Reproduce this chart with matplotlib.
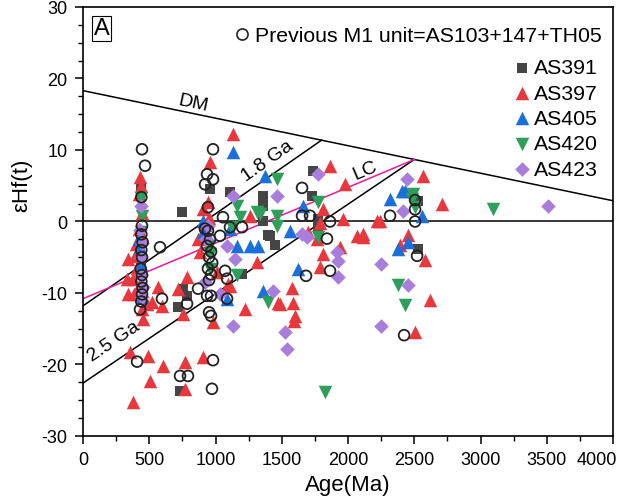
import matplotlib.pyplot as plt
import numpy as np
from matplotlib.ticker import MultipleLocator
from matplotlib.lines import Line2D
from matplotlib.transforms import ScaledTranslation

plt.rcParams['font.family'] = ['Liberation Sans', 'DejaVu Sans']
plt.rcParams['axes.unicode_minus'] = False

# previous M1 unit data (open circles): (age Ma, eHf)
prev_age = [445, 468, 440, 445, 440, 450, 440, 445, 435, 445, 440, 450, 445, 440, 430,
            581, 596, 408, 732, 792, 785, 868,
            981, 936, 981, 921, 943, 1056, 943, 958, 936, 966, 951, 975, 943, 966, 951,
            936, 966, 951, 966, 1072, 1087, 1087, 981, 973, 1034, 1109, 1200, 920,
            1653, 1653, 1713, 1864, 1841, 1864, 1683,
            2317, 2506, 2506, 2521, 2423, 2506]
prev_eps = [10.1, 7.8, 3.4, -0.6, -1.8, -2.9, -4.0, -5.0, -6.6, -7.5, -8.4, -9.3, -10.2, -11.2, -12.3,
            -3.6, -10.8, -19.6, -21.6, -21.6, -11.5, -9.4,
            10.1, 6.6, 5.9, 5.2, 2.0, 0.6, -1.3, -2.5, -3.4, -4.2, -5.0, -5.8, -6.6, -7.4, -8.2,
            -10.4, -10.4, -12.7, -13.2, -6.9, -8.0, -10.8, -19.4, -23.4, -2.0, -0.8, -0.8, -1.0,
            4.7, 0.8, 0.8, 0.0, -2.4, -6.9, -7.6,
            0.8, 1.7, 0.0, -4.8, -15.9, 3.0]

# AS391 (grey squares)
as391_age = [440, 440, 747, 717, 785, 732, 755, 958, 1109, 1358, 1358, 1358, 1396, 1449,
             1200, 1736, 1728, 1774, 1774, 2528, 2528, 1411]
as391_eps = [4.8, -6.0, 1.3, -12.0, -10.4, -23.7, -9.4, 4.6, 4.1, 3.6, 2.2, 0.1, -1.9, -3.3,
             -7.3, 7.1, 3.5, 0.4, -1.0, 2.8, -3.8, -2.0]

# AS397 (red triangles)
as397_age = [430, 440, 425, 445, 420, 400, 395, 410, 380, 385, 445, 455, 420, 430,
             340, 332, 340, 483, 566, 521, 596, 355, 490, 604, 506, 377, 770, 906, 770,
             785, 717, 755, 981,
             1132, 958, 943, 906, 868, 883, 1011, 1109, 1094, 920, 950,
             1260, 1313, 1223, 1487,
             1864, 1977, 1811, 1962, 1766, 2068, 2113, 2219, 1940, 1811, 1789, 1577, 1471,
             1585, 1600, 1593, 1700, 1790,
             2566, 2709, 2241, 2113, 2453, 2392, 2581, 2619, 2506]
as397_eps = [6.2, 5.0, 3.8, 1.2, -1.0, -3.2, -4.8, -6.5, -8.0, -10.1, -12.2, -13.6, -9.0, -2.0,
             -5.2, -8.0, -10.1, -11.5, -9.2, -11.3, -11.8, -18.3, -18.8, -20.2, -22.3, -25.3, -19.6, -18.9, -23.4,
             -7.8, -9.4, -12.9, -14.1,
             12.2, 8.3, 2.7, 1.7, -2.4, -4.3, -7.1, -9.0, -8.7, -0.5, 0.5,
             0.8, -5.7, -12.2, -11.5,
             7.8, 5.3, 1.8, 0.4, -2.4, -2.0, -1.7, 0.0, -3.5, -4.5, -6.3, -9.3, -11.4,
             -11.4, -13.2, -13.9, -1.5, -0.2,
             6.4, 2.4, 0.0, -2.1, -1.9, -3.3, -5.4, -11.0, -15.4]

# AS405 (blue triangles)
as405_age = [1132, 1374, 430, 445, 440, 420, 906, 906, 943, 1087, 1109, 1162, 1260, 1321,
             1358, 1562, 1623, 1660, 2317, 2430, 2558, 2453, 2377, 2407]
as405_eps = [9.7, 6.4, -3.5, -10.5, -6.0, -2.5, 0.0, -1.5, -2.0, -10.8, -1.0, -3.4, -3.4, -3.4,
             -9.7, -1.3, -6.6, 2.1, 3.2, 4.2, 0.7, -2.8, -3.8, 4.3]

# AS420 (green down triangles)
as420_age = [440, 445, 440, 958, 950, 960, 1124, 1464, 1162, 1185, 1336, 1464, 1464, 1396,
             1162, 1774, 1774, 1826, 1313, 2491, 2377, 2430, 2483, 2506, 3094]
as420_eps = [3.3, 0.7, -1.5, -6.6, -3.5, -4.5, -0.8, 5.9, 2.2, 0.6, 1.0, 0.8, -0.6, -11.2,
             -7.5, 2.7, -2.2, -23.9, 1.3, 3.9, -8.9, -11.7, 3.2, 2.0, 1.8]

# AS423 (purple diamonds)
as423_age = [440, 430, 445, 440, 440, 450, 445, 943, 921, 1034, 1087, 1147, 1132, 1132, 930,
             1464, 1434, 1525, 1540, 1774, 1653, 1690, 1917, 1924, 1924, 2245, 2245,
             2445, 2415, 2453, 3509]
as423_eps = [2.1, -1.2, -3.0, -5.0, -7.5, -9.2, -10.6, -0.6, -8.5, -10.1, -3.4, -5.2, 3.5, -14.6, -2.5,
             3.5, -9.7, -15.5, -17.8, 6.6, -1.7, -2.2, -4.3, -5.5, -7.8, -5.9, -14.6,
             5.9, 1.4, -8.9, 2.2]

# reference evolution lines (age, eHf)
dm_age, dm_eps = [0, 4000], [18.3, 2.9]
ga18_age, ga18_eps = [0, 1800], [-11.8, 11.37]
ga25_age, ga25_eps = [0, 2500], [-22.6, 8.67]
lc_age, lc_eps = [0, 2500], [-10.8, 8.67]

c_red = '#e8383d'
c_blue = '#1b6fdb'
c_green = '#2e9e5b'
c_purple = '#a97ddb'
c_grey = '#454545'

fig = plt.figure(figsize=(6.21, 5.02), dpi=100)
ax = fig.add_axes([0.1337, 0.1295, 0.8535, 0.8546])

# reference lines
ax.axhline(0, color='black', lw=1.1, zorder=1)
ax.plot(dm_age, dm_eps, color='black', lw=1.1, zorder=1)
ax.plot(ga18_age, ga18_eps, color='black', lw=1.1, zorder=1)
ax.plot(ga25_age, ga25_eps, color='black', lw=1.1, zorder=1)
ax.plot(lc_age, lc_eps, color='#e8199a', lw=1.1, zorder=1)

# samples
ax.scatter(as391_age, as391_eps, marker='s', s=50, color=c_grey, lw=0, zorder=3, label='AS391')
ax.scatter(as397_age, as397_eps, marker='^', s=95, color=c_red, lw=0, zorder=3, label='AS397')
ax.scatter(as405_age, as405_eps, marker='^', s=95, color=c_blue, lw=0, zorder=3, label='AS405')
ax.scatter(as420_age, as420_eps, marker='v', s=95, color=c_green, lw=0, zorder=3, label='AS420')
ax.scatter(as423_age, as423_eps, marker='D', s=55, color=c_purple, lw=0, zorder=3, label='AS423')
ax.scatter(prev_age, prev_eps, marker='o', s=60, facecolor='none', edgecolor='#222222',
           lw=1.3, zorder=4)

# line labels
ax.text(830, 16.6, 'DM', rotation=-12, fontsize=14, ha='center', va='center')
ax.text(1389, 8.6, '1.8 Ga', rotation=35, fontsize=14, ha='center', va='center')
ax.text(2128, 7.2, 'LC', rotation=23, fontsize=14, ha='center', va='center')
ax.text(234, -16.7, '2.5 Ga', rotation=34, fontsize=14, ha='center', va='center')

# panel letter
ax.text(0.02, 0.95, 'A', transform=ax.transAxes, fontsize=17, ha='left', va='center',
        bbox=dict(boxstyle='square,pad=0.08', facecolor='white', edgecolor='black', lw=0.8))

# legends
prev_handle = Line2D([], [], marker='o', ls='none', markersize=8, markerfacecolor='none',
                     markeredgecolor='#222222', markeredgewidth=1.2)
leg1 = ax.legend([prev_handle], ['Previous M1 unit=AS103+147+TH05'], loc='upper right',
                 bbox_to_anchor=(1.007, 0.99), frameon=False, fontsize=15.3,
                 handletextpad=0.1, handlelength=1.0, borderaxespad=0.3)
ax.add_artist(leg1)
ax.legend(loc='upper right', bbox_to_anchor=(1.0, 0.915), frameon=False, fontsize=15.3,
          handletextpad=0.1, handlelength=1.0, labelspacing=0.3, borderaxespad=0.3)

ax.set_xlim(0, 4000)
ax.set_ylim(-30, 30)
ax.set_xticks(np.arange(0, 4001, 500))
ax.xaxis.set_minor_locator(MultipleLocator(250))
ax.yaxis.set_major_locator(MultipleLocator(10))
ax.yaxis.set_minor_locator(MultipleLocator(2.5))
ax.tick_params(which='major', direction='out', length=6, width=1.1, labelsize=13, pad=5)
ax.tick_params(which='minor', direction='out', length=3.5, width=1.0)
for sp in ax.spines.values():
    sp.set_linewidth(1.2)

# keep the last x label inside the figure, as in the original
last = ax.get_xticklabels()[-1]
last.set_horizontalalignment('right')
last.set_transform(last.get_transform() + ScaledTranslation(0.04, 0, fig.dpi_scale_trans))

ax.set_xlabel('Age(Ma)', fontsize=16, labelpad=4)
ax.set_ylabel('εHf(t)', fontsize=16)
ax.yaxis.set_label_coords(-0.095, 0.587)

plt.savefig('out.png', dpi=100)
